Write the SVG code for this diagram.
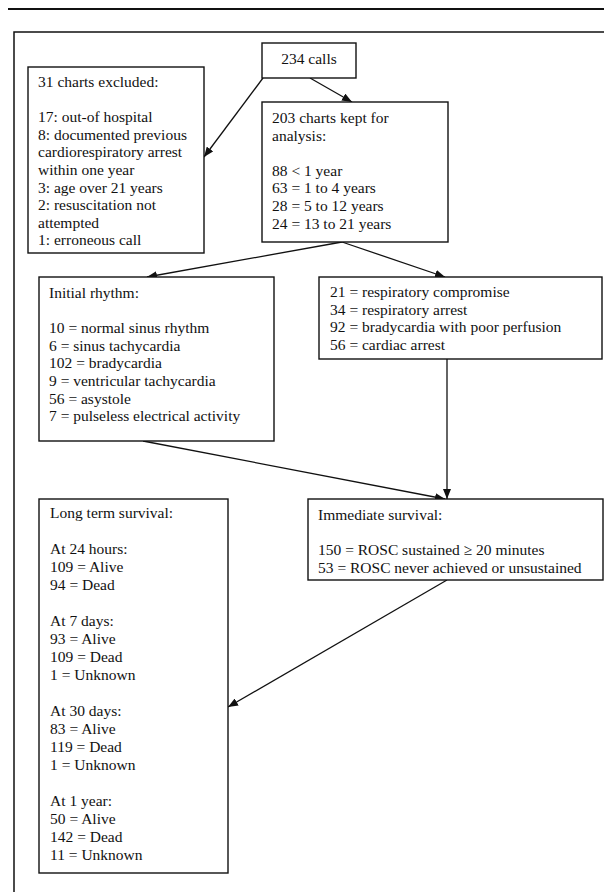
<svg xmlns="http://www.w3.org/2000/svg" width="604" height="892" viewBox="0 0 604 892">
<style>
.box{fill:#fff;stroke:#111;stroke-width:1.4}
.t{font-family:"Liberation Serif","Times New Roman",serif;font-size:15.5px;fill:#111}
.c{fill:none;stroke:#111;stroke-width:1.3}
.frame{fill:none;stroke:#111;stroke-width:1.5}
</style>
<defs>
<marker id="ah" markerUnits="userSpaceOnUse" markerWidth="10" markerHeight="8" refX="10" refY="4" viewBox="0 0 10 8" orient="auto">
<path d="M0,0 L10,4 L0,8 z" fill="#111"/>
</marker>
</defs>
<rect width="604" height="892" fill="#fff"/>
<line x1="8" y1="9" x2="604" y2="9" stroke="#111" stroke-width="2"/>
<path class="frame" d="M14,892 V32 H604"/>

<g id="connectors">
<line class="c" x1="263" y1="78" x2="204" y2="157" marker-end="url(#ah)"/>
<line class="c" x1="310" y1="78" x2="352" y2="102" marker-end="url(#ah)"/>
<line class="c" x1="342" y1="242" x2="147" y2="277" marker-end="url(#ah)"/>
<line class="c" x1="342" y1="242" x2="445" y2="277" marker-end="url(#ah)"/>
<line class="c" x1="447" y1="359" x2="447" y2="499" marker-end="url(#ah)"/>
<line class="c" x1="143" y1="441" x2="445" y2="499" marker-end="url(#ah)"/>
<line class="c" x1="447" y1="580" x2="228" y2="707" marker-end="url(#ah)"/>
</g>

<g id="calls">
<rect class="box" x="262" y="43" width="94" height="35"/>
<text class="t" x="309" y="64" text-anchor="middle">234 calls</text>
</g>

<g id="excluded">
<rect class="box" x="28" y="67" width="176" height="186"/>
<text class="t">
<tspan x="38" y="87">31 charts excluded:</tspan>
<tspan x="38" y="122.2">17: out-of hospital</tspan>
<tspan x="38" y="139.8">8: documented previous</tspan>
<tspan x="38" y="157.4">cardiorespiratory arrest</tspan>
<tspan x="38" y="175">within one year</tspan>
<tspan x="38" y="192.6">3: age over 21 years</tspan>
<tspan x="38" y="210.2">2: resuscitation not</tspan>
<tspan x="38" y="227.8">attempted</tspan>
<tspan x="38" y="245.4">1: erroneous call</tspan>
</text>
</g>

<g id="kept">
<rect class="box" x="262" y="102" width="186" height="140"/>
<text class="t">
<tspan x="272" y="123">203 charts kept for</tspan>
<tspan x="272" y="140.6">analysis:</tspan>
<tspan x="272" y="175.8">88 &lt; 1 year</tspan>
<tspan x="272" y="193.4">63 = 1 to 4 years</tspan>
<tspan x="272" y="211">28 = 5 to 12 years</tspan>
<tspan x="272" y="228.6">24 = 13 to 21 years</tspan>
</text>
</g>

<g id="rhythm">
<rect class="box" x="39" y="277" width="235" height="164"/>
<text class="t">
<tspan x="49" y="298">Initial rhythm:</tspan>
<tspan x="49" y="333.2">10 = normal sinus rhythm</tspan>
<tspan x="49" y="350.8">6 = sinus tachycardia</tspan>
<tspan x="49" y="368.4">102 = bradycardia</tspan>
<tspan x="49" y="386">9 = ventricular tachycardia</tspan>
<tspan x="49" y="403.6">56 = asystole</tspan>
<tspan x="49" y="421.2">7 = pulseless electrical activity</tspan>
</text>
</g>

<g id="presentation">
<rect class="box" x="319" y="277" width="283" height="82"/>
<text class="t">
<tspan x="330" y="297">21 = respiratory compromise</tspan>
<tspan x="330" y="314.6">34 = respiratory arrest</tspan>
<tspan x="330" y="332.2">92 = bradycardia with poor perfusion</tspan>
<tspan x="330" y="349.8">56 = cardiac arrest</tspan>
</text>
</g>

<g id="immediate">
<rect class="box" x="308" y="499" width="295" height="81"/>
<text class="t">
<tspan x="318" y="520">Immediate survival:</tspan>
<tspan x="318" y="555.2">150 = ROSC sustained ≥ 20 minutes</tspan>
<tspan x="318" y="572.8">53 = ROSC never achieved or unsustained</tspan>
</text>
</g>

<g id="longterm">
<rect class="box" x="39" y="499" width="189" height="374"/>
<text class="t">
<tspan x="50" y="518">Long term survival:</tspan>
<tspan x="50" y="554">At 24 hours:</tspan>
<tspan x="50" y="572">109 = Alive</tspan>
<tspan x="50" y="590">94 = Dead</tspan>
<tspan x="50" y="626">At 7 days:</tspan>
<tspan x="50" y="644">93 = Alive</tspan>
<tspan x="50" y="662">109 = Dead</tspan>
<tspan x="50" y="680">1 = Unknown</tspan>
<tspan x="50" y="716">At 30 days:</tspan>
<tspan x="50" y="734">83 = Alive</tspan>
<tspan x="50" y="752">119 = Dead</tspan>
<tspan x="50" y="770">1 = Unknown</tspan>
<tspan x="50" y="806">At 1 year:</tspan>
<tspan x="50" y="824">50 = Alive</tspan>
<tspan x="50" y="842">142 = Dead</tspan>
<tspan x="50" y="860">11 = Unknown</tspan>
</text>
</g>
</svg>
